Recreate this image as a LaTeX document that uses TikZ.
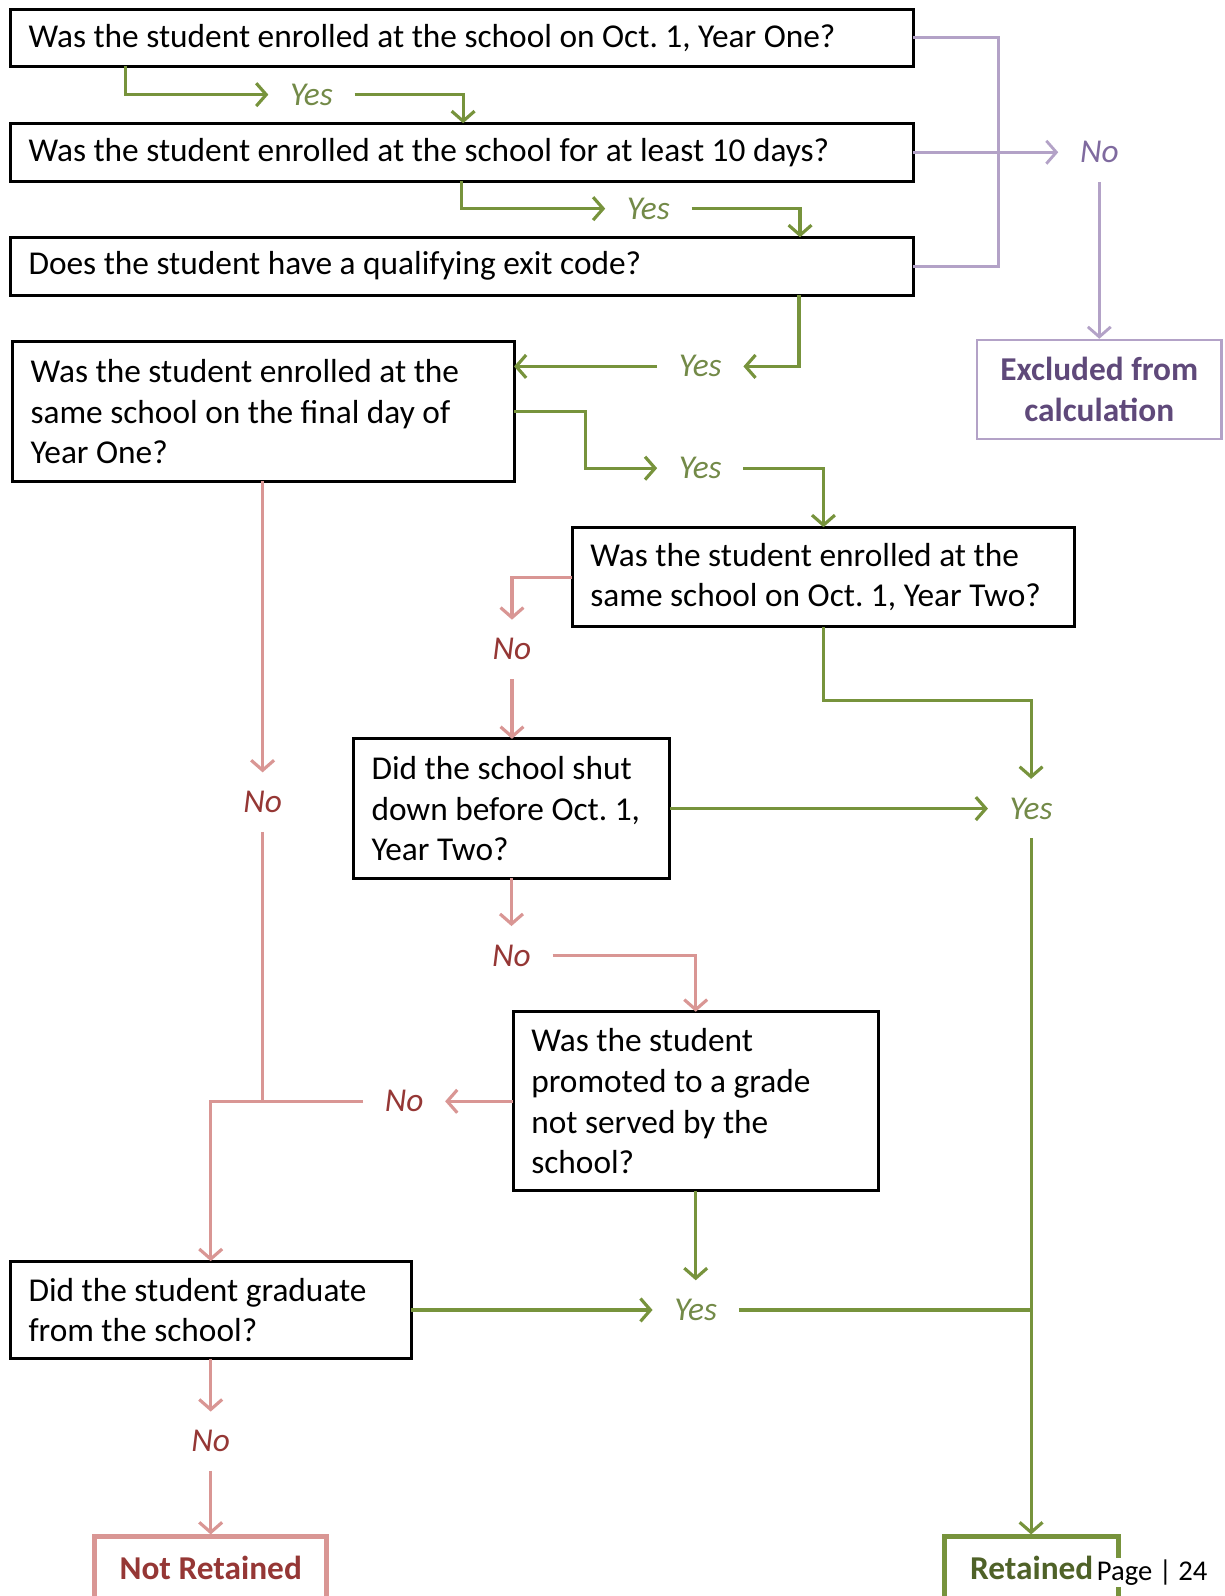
\documentclass[tikz,border=0pt]{standalone}
\usepackage{fontspec}
\setmainfont{Carlito}
\usetikzlibrary{arrows.meta}
\definecolor{yesgreen}{HTML}{77933C}
\definecolor{yestext}{HTML}{738A48}
\definecolor{retgreen}{HTML}{4F6228}
\definecolor{nopink}{HTML}{D99694}
\definecolor{nored}{HTML}{953735}
\definecolor{exline}{HTML}{B3A2C7}
\definecolor{exno}{HTML}{7F6A9F}
\definecolor{extext}{HTML}{5F497A}
\newcommand{\chartfont}{\fontsize{23.3}{28.45}\selectfont\frenchspacing}

\begin{document}
\begin{tikzpicture}[font=\chartfont,
    qbox/.style={draw, line width=2.1pt, align=left, inner xsep=0.45cm, anchor=west, outer sep=0pt,
      execute at begin node={\spaceskip=0pt\xspaceskip=0pt}},
    lbl/.style={font=\chartfont\itshape, inner xsep=15pt, inner ysep=13pt},
    yeslbl/.style={lbl, text=yestext},
    nolbl/.style={lbl, text=nored},
    yesline/.style={draw=yesgreen, line width=2.2pt, -{Straight Barb[length=7pt,width=16pt]}},
    noline/.style={draw=nopink, line width=2.2pt, -{Straight Barb[length=7pt,width=16pt]}},
    exclline/.style={draw=exline, line width=2pt, -{Straight Barb[length=7pt,width=16pt]}}]
    \useasboundingbox (0, 0) rectangle (30.075, 39.2);

    \node[qbox,text width=21.275cm,minimum height=1.4cm] (A) at (0.25, 38.275) {Was the student enrolled at the school on Oct. 1, Year One?};
    \node[qbox,text width=21.275cm,minimum height=1.425cm] (B) at (0.25, 35.46) {Was the student enrolled at the school for at least 10 days?};
    \node[qbox,text width=21.275cm,minimum height=1.425cm] (C) at (0.25, 32.66) {Does the student have a qualifying exit code?};
    \node[qbox,text width=11.425cm,minimum height=3.425cm] (D) at (0.3, 29.09) {Was the student enrolled at the\\ same school on the final day of\\ Year One?};
    \node[qbox,text width=11.45cm,minimum height=2.45cm] (E) at (14.05, 25.025) {Was the student enrolled at the\\ same school on Oct. 1, Year Two?};
    \node[qbox,text width=6.875cm,minimum height=3.425cm] (F) at (8.675, 19.34) {Did the school shut\\ down before Oct. 1,\\ Year Two?};
    \node[qbox,text width=8.075cm,minimum height=4.4cm] (G) at (12.6, 12.15) {Was the student\\ promoted to a grade\\ not served by the\\ school?};
    \node[qbox,text width=8.95cm,minimum height=2.4cm] (H) at (0.25, 7.025) {Did the student graduate\\ from the school?};

    \node[draw=exline,line width=1.5pt,minimum width=6cm,minimum height=2.425cm,align=center,text=extext,font=\chartfont\bfseries,
      execute at begin node={\spaceskip=0pt}] (X) at (27, 29.64) {Excluded from\\ calculation};
    \node[draw=nopink,line width=3.5pt,minimum width=5.7cm,minimum height=1.5cm,text=nored,font=\chartfont\bfseries] (N) at (5.175, 0.7) {Not Retained};
    \node[draw=yesgreen,line width=3.5pt,minimum width=4.275cm,minimum height=1.5cm,text=retgreen,font=\chartfont\bfseries] (R) at (25.34, 0.7) {Retained};
    \node[fill=white,inner sep=1pt,font=\fontsize{20}{24}\selectfont] (P) at (28.3, 0.575) {Page | 24};

    \node[yeslbl] (y1) at (7.65, 36.875) {Yes};
    \node[yeslbl] (y2) at (15.925, 34.075) {Yes};
    \node[lbl,text=exno] (x1) at (27, 35.46) {No};
    \node[yeslbl] (y3) at (17.2, 30.2) {Yes};
    \node[yeslbl] (y4) at (17.2, 27.7) {Yes};
    \node[nolbl] (n1) at (12.575, 23.25) {No};
    \node[yeslbl] (y5) at (25.325, 19.34) {Yes};
    \node[nolbl] (n2) at (6.45, 19.5) {No};
    \node[nolbl] (n3) at (12.5625, 15.725) {No};
    \node[nolbl] (n4) at (9.925, 12.15) {No};
    \node[yeslbl] (y6) at (17.0875, 7.025) {Yes};
    \node[nolbl] (n5) at (5.175, 3.8) {No};

    % first three questions
    \draw[yesline] (A.south -| 3.075,0) |- (y1.west);
    \draw[yesline] (y1.east) -| (B.north -| 11.375,0);
    \draw[yesline] (B.south -| 11.325,0) |- (y2.west);
    \draw[yesline] (y2.east) -| (C.north -| 19.65,0);
    \draw[exclline,-] (A.east) -| (C.east -| 24.525,0) -- (C.east);
    \draw[exclline] (B.east) -- (x1.west);
    \draw[exclline] (x1.south) -- (X.north);
    \draw[yesline] (C.south -| 19.625,0) |- (y3.east);
    \draw[yesline] (y3.west) -- (y3.west -| D.east);

    % year one to year two
    \draw[yesline] (D.east) -- (D.east -| 14.375,0) |- (y4.west);
    \draw[yesline] (y4.east) -| (E.north -| 20.225,0);
    \draw[noline] (E.west) -| (n1.north);
    \draw[noline] (n1.south) -- (n1.south |- F.north);
    \draw[yesline] (E.south -| 20.225,0) -- (20.225, 22) -| (y5.north);
    \draw[yesline] (F.east) -- (y5.west);
    \draw[yesline] (y5.south) -- (y5.south |- R.north);
    \draw[noline] (D.south -| n2.north) -- (n2.north);
    \draw[noline,-] (n2.south) -- (n2.south |- n4.west);
    \draw[noline] (F.south -| n3.north) -- (n3.north);
    \draw[noline] (n3.east) -| (G.north);
    \draw[noline] (G.west) -- (n4.east);
    \draw[noline] (n4.west) -| (H.north);
    \draw[yesline] (G.south) -- (G.south |- y6.north);
    \draw[yesline] (H.east) -- (y6.west);
    \draw[yesline,-] (y6.east) -- (y6.east -| y5.south);
    \draw[noline] (H.south -| n5.north) -- (n5.north);
    \draw[noline] (n5.south) -- (N.north);
\end{tikzpicture}
\end{document}
